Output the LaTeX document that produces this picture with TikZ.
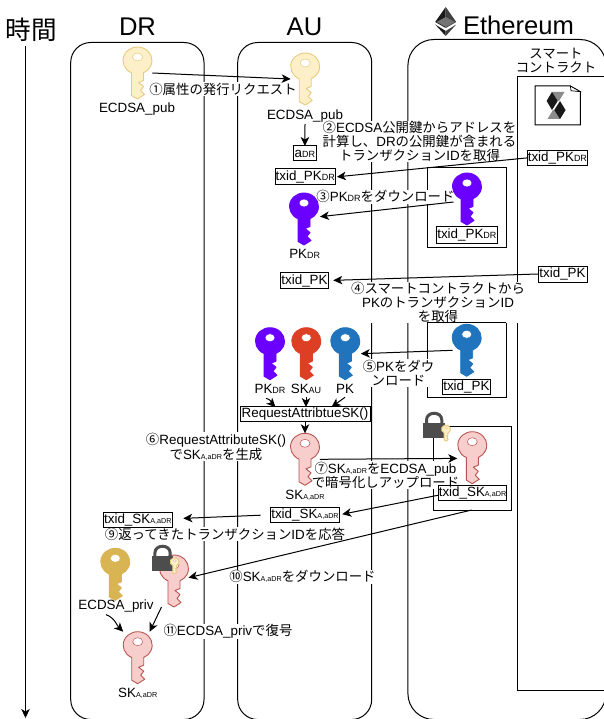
\documentclass[tikz,border=0pt]{standalone}
\usepackage{fontspec}
\usetikzlibrary{arrows.meta}
\setmainfont{Liberation Sans}
\newfontfamily\jpf{Noto Sans CJK JP}
\newcommand\J[1]{{\jpf #1}}
\newcommand\lf{\fontsize{13.4}{14}\selectfont}
\newcommand\hf{\fontsize{25.6}{26}\selectfont}
\newcommand\sdr[1]{{\fontsize{9}{9}\selectfont #1}}
\newcommand\ska{{\fontsize{7.2}{7.2}\selectfont A,aDR}}
\definecolor{cream}{HTML}{FDEFC8}
\definecolor{creamline}{HTML}{E8CB7E}
\definecolor{gold}{HTML}{D8B452}
\definecolor{purp}{HTML}{6A00FF}
\definecolor{redk}{HTML}{DD3F24}
\definecolor{bluek}{HTML}{1F74BD}
\definecolor{pink}{HTML}{F8CECC}
\definecolor{pinkline}{HTML}{B85450}
\definecolor{lockc}{HTML}{4D4D4D}
% key: name, centre x, top y, fill, stroke, scale
\newcommand\Key[6]{%
  \node[keyslot,minimum width=29*#6,minimum height=52*#6] (#1) at (#2,#3+26*#6) {};
  \begin{scope}[shift={(#2,#3+13.5*#6)},x=1pt,y=1pt,scale=#6]
    \filldraw[fill=#4,draw=#5,line width=.9pt,line join=round]
      (6,-12.3) -- (6,-20) -- (1,-22) -- (6,-26) -- (3,-30) -- (7,-34) -- (0,-38.5) -- (-6,-35) -- (-6,-12.3)
      arc[start angle=245.6,end angle=-65.6,x radius=14.5,y radius=13.5] -- cycle;
    \filldraw[fill=white,draw=#5,line width=.5pt] (0,3.5) ellipse[x radius=5,y radius=4];
  \end{scope}}
% lock: left x, body top y
\newcommand\Lock[2]{%
  \draw[lockc,line width=3pt] (#1+3.2,#2+1) -- (#1+3.2,#2-3) .. controls +(0,-9) and +(0,-9) .. (#1+18.5,#2-3) -- (#1+18.5,#2+1);
  \fill[lockc] (#1,#2) rectangle (#1+21.7,#2+14.7);}
\tikzset{
  keyslot/.style={inner sep=0pt,outer sep=0pt},
  lab/.style={fill=white,inner sep=.6pt,align=center},
  plain/.style={inner sep=.5pt,align=center},
  tx/.style={draw=black,fill=white,line width=1pt,inner sep=0pt,outer sep=0pt},
  frame/.style={draw=black,line width=1pt,inner sep=0pt,outer sep=0pt},
  arr/.style={-{Stealth[length=9pt,width=8.5pt,inset=2.5pt]},line width=1pt,black},
  panel/.style={draw=black,line width=1pt,rounded corners=#1},
}
\begin{document}
\begin{tikzpicture}[x=1pt,y=-1pt,every node/.style={font=\lf}]
\useasboundingbox (0,0) rectangle (604,719);
\fill[white] (0,0) rectangle (604,719);
% titles
\node[plain,font=\hf] (time) at (31,30) {\J{時間}};
\node[plain,font=\hf] (drt) at (137.5,27) {DR};
\node[plain,font=\hf] (aut) at (304.5,27) {AU};
\node[plain,font=\hf] (etht) at (518.5,25) {Ethereum};
% ethereum logo
\fill[black!90] (445.7,7) -- (435.2,22) -- (445.7,28) -- cycle;
\fill[black!75] (445.7,7) -- (456.2,22) -- (445.7,28) -- cycle;
\fill[black!55] (445.7,17) -- (436.5,22) -- (445.7,27) -- (454.9,22) -- cycle;
\fill[black!90] (435.2,24.5) -- (445.7,36) -- (445.7,31) -- cycle;
\fill[black!75] (456.2,24.5) -- (445.7,36) -- (445.7,31) -- cycle;
% time axis
\coordinate (ta) at (25.5,46);
\coordinate (tb) at (25.5,718);
\draw[arr] (ta) -- (tb);
% panels
\begin{scope}
\clip (0,0) rectangle (604,719);
\draw[panel=20] (70.7,42.5) rectangle (204,719.5);
\draw[panel=20] (237.7,42.5) rectangle (371.7,719.5);
\draw[panel=26] (407.9,39.5) rectangle (606,719.5);
\draw[line width=1pt] (610,76.7) -- (517,76.7) -- (517,690) -- (610,690);
\end{scope}
\node[plain] (sc) at (556,61) {\J{スマート}\\\J{コントラクト}};
% solidity icon
\filldraw[fill=white,draw=black,line width=1pt] (535,86) -- (570.3,86) -- (580.3,91.7) -- (580.3,125) -- (535,125) -- cycle;
\filldraw[fill=white,draw=black,line width=.7pt] (570.3,86) -- (580.3,91.7) -- (571,90.7) -- cycle;
\fill[black!45] (552,92) -- (564.5,92) -- (559,101) -- (546.7,101) -- cycle;
\fill[black!90] (546.7,101) -- (552,92) -- (557.7,101) -- (552,110) -- cycle;
\fill[black!45] (560,119) -- (547.5,119) -- (553,110) -- (565.5,110) -- cycle;
\fill[black!90] (565.5,110) -- (560,119) -- (554.3,110) -- (560,101) -- cycle;
% storage frames
\node[frame,minimum width=78.3,minimum height=79.5] (fpd) at (466.85,207.75) {};
\node[frame,minimum width=78.7,minimum height=75] (fpk) at (466.65,359.8) {};
\node[frame,minimum width=78.4,minimum height=83.3] (fsk) at (472.5,468.35) {};
% white-backed labels
\node[lab] (lb1) at (223,89) {\J{①属性の発行リクエスト}};
\node[lab] (lb2) at (419.5,141.5) {\J{②}ECDSA\J{公開鍵からアドレスを}\\\J{計算し、}DR\J{の公開鍵が含まれる}\\\J{トランザクション}ID\J{を取得}};
\node[lab] (lb3) at (385.5,196.7) {\J{③}PK\sdr{DR}\J{をダウンロード}};
\node[lab] (lb4) at (438,302.5) {\J{④スマートコントラクトから}\\PK\J{のトランザクション}ID\\\J{を取得}};
\draw[line width=1pt] (fpk.north west) -- (fpk.north east);
\node[lab] (lb5) at (398.5,373) {\J{⑤}PK\J{をダウ}\\\J{ンロード}};
\node[lab] (lb6) at (216,446.5) {\J{⑥}RequestAttributeSK()\\\J{で}SK\ska\J{を生成}};
\node[lab] (lb7) at (385.5,475) {\J{⑦}SK\ska\J{を}ECDSA\_pub\\\J{で暗号化しアップロード}};
\node[lab] (lb9) at (225,534) {\J{⑨返ってきたトランザクション}ID\J{を応答}};
\node[lab] (lb10) at (302.5,576.7) {\J{⑩}SK\ska\J{をダウンロード}};
\node[lab] (lb11) at (228,631.7) {\J{⑪}ECDSA\_priv\J{で復号}};
% keys
\Key{k1}{137.5}{47}{cream}{creamline}{1}
\Key{k2}{305.2}{53}{cream}{creamline}{1}
\Key{kpa}{304}{193}{purp}{purp}{1}
\Key{kpr}{467}{173}{purp}{purp}{1}
\Key{kd}{270}{327.7}{purp}{purp}{1}
\Key{ks}{306.3}{327.7}{redk}{redk}{1}
\Key{kb}{345.3}{327.7}{bluek}{bluek}{1}
\Key{kbr}{466.7}{324.3}{bluek}{bluek}{1}
\Key{k6}{305}{433.3}{pink}{pinkline}{1}
\Key{k7}{472.3}{431.7}{pink}{pinkline}{1}
\Key{kg}{115.3}{548.3}{gold}{gold}{1}
\Key{k8}{174}{555}{pink}{pinkline}{1}
\Key{k9}{137.7}{631.7}{pink}{pinkline}{1}
% locks
\Lock{423.3}{423}
\Key{ksm1}{446}{425}{cream}{creamline}{.31}
\Lock{151.7}{556}
\Key{ksm2}{174.7}{557.7}{cream}{creamline}{.31}
% key captions
\node[plain] (l1) at (137,109) {ECDSA\_pub};
\node[plain] (l2) at (305,116) {ECDSA\_pub};
\node[plain] (l3) at (304.7,254) {PK\sdr{DR}};
\node[plain] (lpd) at (270,389) {PK\sdr{DR}};
\node[plain] (lsk) at (306,389) {SK\sdr{AU}};
\node[plain] (lpk) at (345,389) {PK};
\node[plain] (l6) at (305,495) {SK\ska};
\node[plain] (lg) at (116,605.7) {ECDSA\_priv};
\node[plain] (l9) at (137.7,693) {SK\ska};
% boxes
\node[tx,minimum width=22.8,minimum height=15] (adr) at (304.9,153.5) {a\sdr{DR}};
\node[tx,minimum width=60.3,minimum height=16] (txa1) at (305.2,177) {txid\_PK\sdr{DR}};
\node[tx,minimum width=60.7,minimum height=15.7] (txr1) at (557.4,157.9) {txid\_PK\sdr{DR}};
\node[tx,minimum width=61.7,minimum height=16.3] (txi1) at (466.9,234.9) {txid\_PK\sdr{DR}};
\node[tx,minimum width=47.6,minimum height=15.6] (txa2) at (304.5,280.5) {txid\_PK};
\node[tx,minimum width=49,minimum height=16] (txr2) at (562.5,274) {txid\_PK};
\node[tx,minimum width=47.3,minimum height=15] (txi2) at (466.4,386.5) {txid\_PK};
\node[tx,minimum width=130,minimum height=15.7] (req) at (305,413.9) {RequestAttribtueSK()};
\node[tx,minimum width=68.4,minimum height=15] (txs1) at (472.5,493.2) {txid\_SK\ska};
\node[tx,minimum width=68.6,minimum height=15] (txs2) at (305,514.8) {txid\_SK\ska};
\node[tx,minimum width=69,minimum height=15] (txs3) at (137.8,519.8) {txid\_SK\ska};
% connectors
\draw[arr] ([xshift=.3pt]k1.east) -- (k2.west);
\draw[arr] ([yshift=-1pt]l2.south) -- (adr.north);
\draw[arr,shorten >=1.5pt] (txr1.west) -- (txa1.east);
\draw[arr] ([yshift=-3pt,xshift=1pt]kpr.west) -- ([yshift=2.3pt,xshift=1.5pt]kpa.east);
\draw[arr,shorten >=5pt] (txr2.west) -- (txa2.east);
\draw[arr] ([xshift=.5pt]kbr.west) -- ([xshift=1pt]kb.east);
\draw[arr] ([xshift=-4pt,yshift=-4pt]lpd.south) to[out=-10,in=135] ([xshift=-29.5pt,yshift=-1pt]req.north);
\draw[arr] ([yshift=-3pt]lsk.south) -- ([xshift=1pt,yshift=-1pt]req.north);
\draw[arr] ([yshift=-3pt]lpk.south) -- ([xshift=26.5pt,yshift=-1pt]req.north);
\draw[arr] (req.south) -- (k6.north);
\draw[arr] ([xshift=.3pt]k6.east) -- ([yshift=-.7pt,xshift=-.5pt]k7.west);
\draw[arr,shorten >=3pt] ([yshift=-2pt]txs1.west) -- (txs2.east);
\draw[arr,shorten >=11pt,shorten <=10pt] (txs2.west) -- ([yshift=1pt]txs3.east);
\draw[arr] ([xshift=-.8pt]fsk.south) -- ([yshift=3.3pt]k8.east);
\draw[arr] ([xshift=-10pt,yshift=-2pt]lg.south) to[out=-20,in=135] (k9.north west);
\draw[arr] ([xshift=2pt]k8.south west) -- ([xshift=12pt]k9.north);
\end{tikzpicture}
\end{document}
